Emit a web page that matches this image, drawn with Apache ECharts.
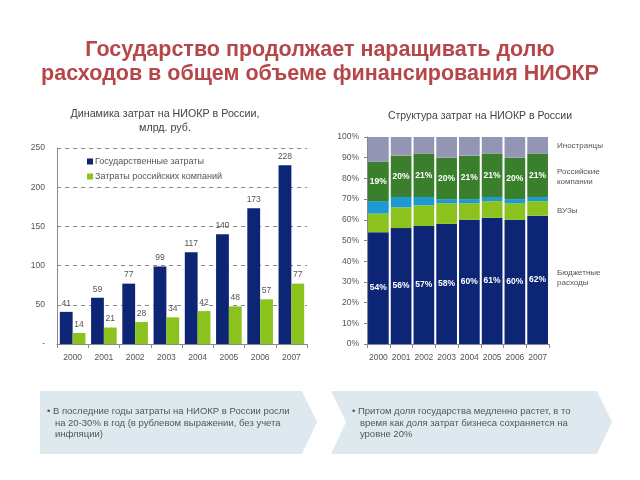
<!DOCTYPE html>
<html><head><meta charset="utf-8">
<script src="https://cdn.jsdelivr.net/npm/echarts@6/dist/echarts.min.js"></script>
<style>html,body{margin:0;padding:0;background:#fff}#c{width:640px;height:480px}</style>
</head><body><div id="c"></div>
<script>
const years = ['2000','2001','2002','2003','2004','2005','2006','2007'];
const govSpend = [41, 59, 77, 99, 117, 140, 173, 228];
const companySpend = [14, 21, 28, 34, 42, 48, 57, 77];
const leftTicks = [0, 50, 100, 150, 200, 250];

const shareBudget = [54, 56, 57, 58, 60, 61, 60, 62];
const shareUniv = [9, 10, 10, 10, 8, 8, 8, 7];
const shareOther = [6, 5, 4, 2, 2, 2, 2, 2];
const shareCompanies = [19, 20, 21, 20, 21, 21, 20, 21];
const shareForeign = [12, 9, 8, 10, 9, 8, 10, 8];

const FONT = '"Liberation Sans", Arial, sans-serif';
const chart = echarts.init(document.getElementById('c'), null, {renderer:'canvas'});
const txt = (x,y,t,o={}) => ({type:'text', left:x, top:y, style:Object.assign({text:t, fill:'#555', font:'8px '+FONT}, o)});

chart.setOption({
  animation:false,
  textStyle:{fontFamily:FONT},
  title:[
    {text:'Государство продолжает наращивать долю\nрасходов в общем объеме финансирования НИОКР', left:'center', top:33,
     textStyle:{color:'#b5474b', fontSize:21.5, fontWeight:'bold', lineHeight:24, fontFamily:FONT}},
    {text:'Динамика затрат на НИОКР в России,\nмлрд. руб.', left:160, textAlign:'center', top:102,
     textStyle:{color:'#444', fontSize:10.7, fontWeight:'normal', lineHeight:14, fontFamily:FONT}},
    {text:'Структура затрат на НИОКР в России', left:475, textAlign:'center', top:106,
     textStyle:{color:'#444', fontSize:10.5, fontWeight:'normal', fontFamily:FONT}}
  ],
  legend:{data:['Государственные затраты','Затраты российских компаний'], orient:'vertical', left:82, top:152,
    itemWidth:6, itemHeight:6, icon:'rect', itemGap:6, textStyle:{fontSize:9, color:'#555', padding:[0,0,0,-3]}},
  grid:[
    {left:57, right:333, top:148, bottom:136},
    {left:367, right:91, top:137, bottom:136}
  ],
  xAxis:[
    {type:'category', gridIndex:0, data:years, axisLine:{lineStyle:{color:'#888'}}, axisTick:{show:true, length:4, lineStyle:{color:'#888'}},
     axisLabel:{color:'#555', fontSize:8.5, margin:9, interval:0}},
    {type:'category', gridIndex:1, data:years, axisLine:{lineStyle:{color:'#888'}}, axisTick:{show:true, length:4, lineStyle:{color:'#888'}},
     axisLabel:{color:'#555', fontSize:8.5, margin:9, interval:0}}
  ],
  yAxis:[
    {type:'value', gridIndex:0, min:leftTicks[0], max:leftTicks[leftTicks.length-1], interval:50,
     axisLine:{show:true, lineStyle:{color:'#888'}}, axisTick:{show:false},
     splitLine:{lineStyle:{color:'#888', type:[4,4]}},
     axisLabel:{color:'#555', fontSize:8.5, margin:12, formatter:v=> v===0?'-':String(v)}},
    {type:'value', gridIndex:1, min:0, max:100, interval:10,
     axisLine:{show:true, lineStyle:{color:'#888'}}, axisTick:{show:true, length:3, lineStyle:{color:'#888'}},
     splitLine:{show:false},
     axisLabel:{color:'#555', fontSize:8.5, margin:8, formatter:'{value}%'}}
  ],
  series:[
    {name:'Государственные затраты', type:'bar', xAxisIndex:0, yAxisIndex:0, data:govSpend, barGap:'0%', barCategoryGap:'18%',
     itemStyle:{color:'#0d2575'}, label:{show:true, position:'top', color:'#555', fontSize:8.5, distance:4}},
    {name:'Затраты российских компаний', type:'bar', xAxisIndex:0, yAxisIndex:0, data:companySpend,
     itemStyle:{color:'#8cc21e'}, label:{show:true, position:'top', color:'#555', fontSize:8.5, distance:4}},

    {name:'Бюджетные расходы', type:'bar', stack:'s', xAxisIndex:1, yAxisIndex:1, data:shareBudget, barCategoryGap:'9%',
     itemStyle:{color:'#0d2575'}, label:{show:true, position:'inside', color:'#fff', fontWeight:'bold', fontSize:8.5, formatter:'{c}%'}},
    {name:'ВУЗы', type:'bar', stack:'s', xAxisIndex:1, yAxisIndex:1, data:shareUniv, itemStyle:{color:'#8cc21e'}},
    {name:'Прочие', type:'bar', stack:'s', xAxisIndex:1, yAxisIndex:1, data:shareOther, itemStyle:{color:'#1d9ad2'}},
    {name:'Российские компании', type:'bar', stack:'s', xAxisIndex:1, yAxisIndex:1, data:shareCompanies,
     itemStyle:{color:'#3a7f2c'}, label:{show:true, position:'inside', color:'#fff', fontWeight:'bold', fontSize:8.5, formatter:'{c}%'}},
    {name:'Иностранцы', type:'bar', stack:'s', xAxisIndex:1, yAxisIndex:1, data:shareForeign, itemStyle:{color:'#9494b4'}}
  ],
  graphic:[
    {type:'polygon', shape:{points:[[40,391],[302,391],[317,422],[302,454],[40,454]]}, style:{fill:'#dde9ef'}},
    {type:'polygon', shape:{points:[[331,391],[597,391],[612,422],[597,454],[331,454],[346,422]]}, style:{fill:'#dde9ef'}},
    txt(47,406,'• В последние годы затраты на НИОКР в России росли\n   на 20-30% в год (в рублевом выражении, без учета\n   инфляции)', {font:'9.5px '+FONT, lineHeight:11.5, fill:'#555'}),
    txt(352,406,'• Притом доля государства медленно растет, в то\n   время как доля затрат бизнеса сохраняется на\n   уровне 20%', {font:'9.5px '+FONT, lineHeight:11.5, fill:'#555'}),
    txt(557,142,'Иностранцы'),
    txt(557,167,'Российские\nкомпании', {lineHeight:10}),
    txt(557,207,'ВУЗы'),
    txt(557,268,'Бюджетные\nрасходы', {lineHeight:10})
  ]
});
</script></body></html>
